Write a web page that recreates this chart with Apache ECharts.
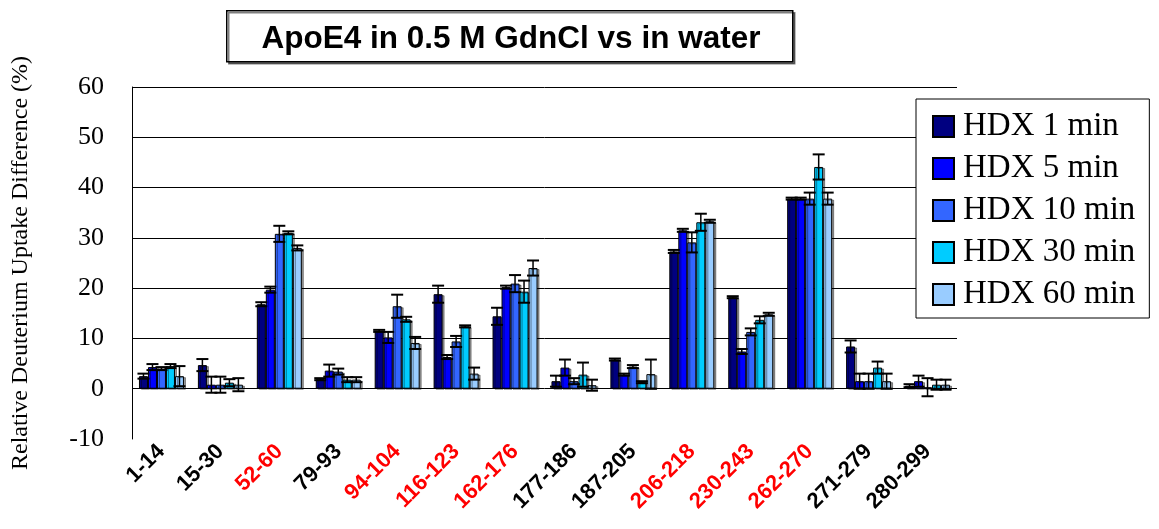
<!DOCTYPE html>
<html>
<head>
<meta charset="utf-8">
<script src="https://cdn.jsdelivr.net/npm/echarts@6/dist/echarts.min.js"></script>
<style>html,body{margin:0;padding:0;background:#fff}#c{width:1159px;height:529px}</style>
</head>
<body>
<div id="c"></div>
<script>
const categories = ['1-14','15-30','52-60','79-93','94-104','116-123','162-176','177-186','187-205','206-218','230-243','262-270','271-279','280-299'];
const redLabels = ['52-60','94-104','116-123','162-176','206-218','230-243','262-270'];
const seriesNames = ['HDX 1 min','HDX 5 min','HDX 10 min','HDX 30 min','HDX 60 min'];
const hdx1  = [2.5, 4.7, 16.8, 1.9, 11.5, 18.8, 14.4, 1.5, 5.8, 27.3, 18.2, 37.8, 8.4, 0.6];
const err1  = [0.5, 1.2, 0.4, 0.2, 0.2, 1.7, 1.7, 1.1, 0.2, 0.3, 0.2, 0.2, 1.2, 0.3];
const hdx5  = [4.3, 0.8, 19.7, 3.6, 10.2, 6.3, 20.2, 4.2, 2.8, 31.5, 7.4, 37.8, 1.5, 1.5];
const err5  = [0.6, 1.6, 0.6, 1.2, 1.1, 0.4, 0.3, 1.6, 0.2, 0.3, 0.5, 0.2, 1.5, 1.1];
const hdx10 = [4.0, 0.8, 30.8, 3.4, 16.4, 9.4, 20.9, 1.5, 4.4, 29.1, 11.3, 37.8, 1.5, 0.3];
const err10 = [0.3, 1.6, 1.6, 0.6, 2.3, 1.1, 1.7, 0.6, 0.3, 2.0, 0.7, 1.2, 1.5, 1.8];
const hdx30 = [4.5, 1.2, 31.0, 1.8, 13.8, 12.4, 19.3, 2.8, 1.3, 33.1, 13.7, 44.1, 4.2, 0.8];
const err30 = [0.4, 0.7, 0.3, 0.5, 0.5, 0.2, 2.2, 2.4, 0.2, 1.7, 0.7, 2.5, 1.2, 1.0];
const hdx60 = [2.5, 0.8, 28.0, 1.8, 9.1, 3.0, 24.0, 0.7, 2.9, 33.3, 14.8, 37.8, 1.5, 0.8];
const err60 = [2.0, 1.3, 0.5, 0.5, 1.2, 1.2, 1.5, 1.1, 2.9, 0.3, 0.3, 1.2, 1.5, 1.0];
const yTicks = [-10, 0, 10, 20, 30, 40, 50, 60];

const values = [hdx1, hdx5, hdx10, hdx30, hdx60];
const errors = [err1, err5, err10, err30, err60];
const colors = ['#000080', '#0000FF', '#3366FF', '#00CCFF', '#99CCFF'];
const BAR_W = 9;

const chart = echarts.init(document.getElementById('c'), null, {renderer: 'canvas'});

const series = [];
values.forEach((vals, k) => {
  series.push({
    name: seriesNames[k],
    type: 'bar',
    data: vals,
    barWidth: BAR_W,
    barGap: '0%',
    itemStyle: {
      color: colors[k], borderColor: '#000', borderWidth: 1,
      shadowColor: 'rgba(0,0,0,0.4)', shadowOffsetX: 2, shadowOffsetY: 1, shadowBlur: 0
    },
    z: 2
  });
});
values.forEach((vals, k) => {
  const offset = (k - 2) * BAR_W;
  series.push({
    name: seriesNames[k] + ' err',
    type: 'custom',
    z: 5,
    data: vals.map((v, i) => [i, v, errors[k][i]]),
    encode: {x: 0, y: 1},
    renderItem: function (params, api) {
      const i = api.value(0), v = api.value(1), e = api.value(2);
      const t = api.coord([i, v + e]);
      const b = api.coord([i, v - e]);
      const x = t[0] + offset;
      const cw = 6;
      return {
        type: 'group',
        children: [
          {type: 'line', shape: {x1: x, y1: t[1], x2: x, y2: b[1]}, style: {stroke: '#000', lineWidth: 1.5}},
          {type: 'line', shape: {x1: x - cw, y1: t[1], x2: x + cw, y2: t[1]}, style: {stroke: '#000', lineWidth: 2}},
          {type: 'line', shape: {x1: x - cw, y1: b[1], x2: x + cw, y2: b[1]}, style: {stroke: '#000', lineWidth: 2}}
        ]
      };
    }
  });
});

chart.setOption({
  animation: false,
  backgroundColor: '#fff',
  title: {
    text: 'ApoE4 in 0.5 M GdnCl vs in water',
    left: 506, top: 18, textAlign: 'center',
    textStyle: {fontFamily: 'Liberation Sans', fontWeight: 'bold', fontSize: 31.5, color: '#000'}
  },
  graphic: [{
    type: 'rect', left: 226, top: 10, z: -1,
    shape: {width: 566, height: 51},
    style: {fill: '#fff', stroke: '#000', lineWidth: 1.5, shadowColor: 'rgba(0,0,0,0.5)', shadowOffsetX: 2, shadowOffsetY: 2}
  }],
  legend: {
    data: seriesNames,
    orient: 'vertical',
    left: 916, top: 99,
    padding: [11, 14, 7, 16],
    itemGap: 9,
    itemWidth: 21, itemHeight: 21,
    icon: 'rect',
    backgroundColor: '#fff',
    borderColor: '#000', borderWidth: 1,
    textStyle: {fontFamily: 'Liberation Serif', fontSize: 33, color: '#000', lineHeight: 30, padding: [0, 0, 0, 4]}
  },
  grid: {left: 132, right: 202, top: 87, bottom: 90},
  xAxis: {
    type: 'category',
    data: categories,
    axisLine: {show: false},
    axisTick: {show: false},
    axisLabel: {
      rotate: 45,
      margin: 9,
      interval: 0,
      fontFamily: 'Liberation Sans',
      fontWeight: 'bold',
      fontSize: 22,
      color: function (value) { return redLabels.indexOf(value) >= 0 ? '#FF0000' : '#000'; }
    }
  },
  yAxis: {
    type: 'value',
    min: yTicks[0], max: yTicks[yTicks.length - 1], interval: 10,
    name: 'Relative Deuterium Uptake Difference (%)',
    nameLocation: 'middle',
    nameGap: 99,
    nameTextStyle: {fontFamily: 'Liberation Serif', fontSize: 24, color: '#000'},
    axisLine: {show: true, lineStyle: {color: '#000', width: 1}},
    axisTick: {show: false},
    axisLabel: {fontFamily: 'Liberation Serif', fontSize: 26, color: '#000', margin: 28},
    splitLine: {show: true, showMinLine: false, lineStyle: {color: '#000', width: 1}}
  },
  series: series
});
</script>
</body>
</html>
